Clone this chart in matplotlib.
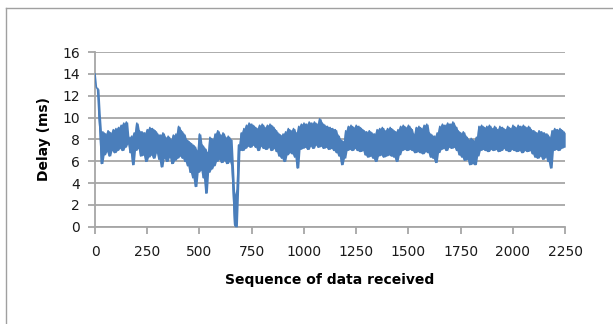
import numpy as np
import pandas as pd
import matplotlib.pyplot as plt
from matplotlib.lines import Line2D

# delay readings (ms), one every 6.25 samples, 0 .. 2250
delay = [
    14.0, 12.8, 12.6, 10.4, 8.6, 5.8, 8.7, 6.6, 8.5, 6.9, 8.8, 6.5, 8.6, 7.0, 8.9, 6.8,
    9.0, 7.0, 9.1, 7.2, 9.3, 7.0, 9.5, 7.3, 9.6, 7.6, 8.2, 6.8, 8.3, 5.7, 8.6, 7.0,
    9.5, 7.2, 8.8, 6.5, 8.7, 6.6, 8.6, 6.0, 8.9, 6.4, 9.1, 6.6, 9.0, 6.3, 8.8, 6.8,
    8.5, 6.2, 8.4, 5.5, 8.6, 6.3, 8.2, 6.0, 8.3, 6.4, 8.0, 5.8, 8.4, 6.1, 8.5, 6.3,
    9.2, 6.5, 8.8, 6.3, 8.5, 6.0, 8.0, 5.6, 7.8, 5.0, 7.6, 4.5, 7.4, 3.7, 7.0, 5.0,
    8.5, 5.2, 7.5, 4.5, 7.2, 3.1, 6.8, 5.0, 8.2, 5.3, 8.0, 5.6, 8.5, 6.0, 8.8, 6.2,
    8.4, 5.9, 8.6, 6.1, 8.2, 5.8, 8.3, 6.0, 8.0, 5.6, 3.0, 0.2, 0.0, 3.5, 7.5, 7.0,
    8.6, 7.0, 9.0, 7.2, 9.3, 7.4, 9.5, 7.3, 9.4, 7.5, 9.2, 7.3, 9.0, 7.0, 9.3, 7.4,
    9.4, 7.2, 9.1, 7.1, 9.3, 7.3, 9.4, 7.0, 9.2, 7.2, 8.9, 6.9, 8.6, 6.5, 8.4, 6.3,
    8.5, 6.0, 8.7, 6.6, 9.0, 6.8, 8.8, 6.7, 9.0, 6.4, 8.6, 5.4, 9.2, 7.1, 9.4, 7.2,
    9.5, 7.3, 9.4, 7.1, 9.6, 7.4, 9.5, 7.2, 9.6, 7.5, 9.4, 7.3, 9.9, 7.4, 9.5, 7.2,
    9.3, 7.3, 9.2, 7.1, 9.1, 7.2, 9.0, 7.0, 8.9, 6.8, 8.4, 6.5, 8.0, 5.7, 7.8, 6.3,
    8.8, 7.0, 9.2, 7.1, 9.3, 7.0, 9.1, 7.2, 9.3, 7.0, 9.2, 6.9, 9.0, 7.0, 8.8, 6.6,
    8.7, 6.4, 8.8, 6.5, 8.6, 6.3, 8.5, 6.0, 8.9, 6.5, 9.0, 6.6, 9.1, 6.4, 8.8, 6.5,
    9.0, 6.6, 9.1, 6.5, 8.9, 6.4, 8.7, 6.0, 8.9, 6.6, 9.2, 7.0, 9.3, 7.1, 9.1, 7.0,
    9.3, 7.1, 9.0, 7.0, 8.5, 6.8, 9.1, 6.9, 9.2, 6.8, 9.0, 6.7, 9.3, 6.9, 9.4, 6.8,
    8.6, 6.4, 8.4, 6.3, 8.3, 5.9, 8.6, 6.8, 9.2, 7.1, 9.4, 7.2, 9.3, 7.0, 9.5, 7.3,
    9.4, 7.2, 9.6, 7.3, 9.2, 7.0, 8.8, 6.6, 8.6, 6.4, 8.7, 6.1, 8.3, 6.2, 8.0, 5.7,
    8.1, 5.8, 7.9, 5.7, 8.2, 6.5, 9.2, 7.0, 9.3, 7.1, 9.1, 7.0, 9.2, 6.9, 9.3, 7.1,
    9.0, 7.0, 9.2, 7.1, 8.9, 6.9, 9.2, 7.0, 9.1, 7.2, 8.9, 7.0, 9.2, 6.9, 9.0, 7.1,
    9.3, 7.0, 9.1, 6.9, 9.3, 7.0, 9.2, 6.8, 9.3, 7.0, 9.1, 6.9, 9.2, 7.0, 8.9, 6.7,
    8.8, 6.4, 8.6, 6.3, 8.8, 6.5, 8.7, 6.2, 8.6, 6.4, 8.5, 6.0, 8.2, 5.4, 8.8, 7.0,
    9.0, 7.1, 8.9, 7.0, 9.0, 7.2, 8.8, 7.3, 8.6,
]
seq = np.linspace(0, 2250, len(delay))

x_ticks = [0, 250, 500, 750, 1000, 1250, 1500, 1750, 2000, 2250]
y_ticks = [0, 2, 4, 6, 8, 10, 12, 14, 16]

line_col = '#4a7ebb'
grid_col = '#a6a6a6'

fig = plt.figure(figsize=(6.13, 3.24), dpi=100)
ax = fig.add_axes([0.155, 0.300, 0.767, 0.539])

# the real series is so dense it reads as a solid band; shade between neighbours
s = pd.Series(delay)
hi = s.rolling(3, center=True, min_periods=1).max()
lo = s.rolling(3, center=True, min_periods=1).min()
ax.fill_between(seq[2:], lo[2:], hi[2:], color=line_col, linewidth=0, zorder=3)
ax.plot(seq, delay, color=line_col, linewidth=1.2, zorder=3)

ax.set_xlim(0, 2250)
ax.set_ylim(0, 16)
ax.set_xticks(x_ticks)
ax.set_yticks(y_ticks)
ax.grid(axis='y', color=grid_col, linewidth=1.3)
ax.set_axisbelow(True)

for sp in ['top', 'right']:
    ax.spines[sp].set_visible(False)
for sp in ['left', 'bottom']:
    ax.spines[sp].set_color(grid_col)
    ax.spines[sp].set_linewidth(1.3)

ax.tick_params(axis='x', length=5, width=1.3, color=grid_col, pad=8,
               labelsize=10, labelcolor='#1a1a1a')
ax.tick_params(axis='y', length=5, width=1.3, color=grid_col, pad=6,
               labelsize=10, labelcolor='#1a1a1a')

ax.set_xlabel('Sequence of data received', fontsize=10, fontweight='bold',
              labelpad=10)
ax.set_ylabel('Delay (ms)', fontsize=10, fontweight='bold', labelpad=8)

# chart area border (top and left edges)
fig.add_artist(Line2D([0.010, 1.0], [0.975, 0.975], color='#a0a0a0',
                      linewidth=1.0, transform=fig.transFigure))
fig.add_artist(Line2D([0.010, 0.010], [0.0, 0.975], color='#a0a0a0',
                      linewidth=1.0, transform=fig.transFigure))

fig.savefig('out.png', dpi=100)
